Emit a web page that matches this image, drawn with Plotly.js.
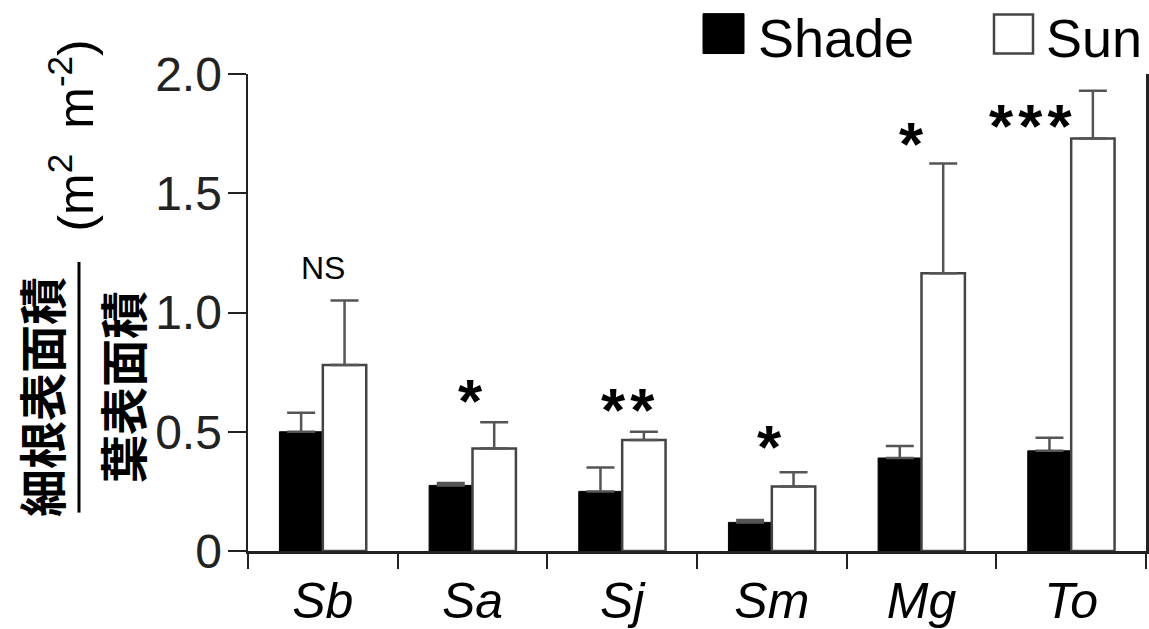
<!DOCTYPE html>
<html>
<head>
<meta charset="utf-8">
<script src="https://cdn.plot.ly/plotly-3.0.1.min.js"></script>
<style>html,body{margin:0;padding:0;background:#fff;}#chart{width:1149px;height:629px;}</style>
</head>
<body>
<div id="chart"></div>
<script>
const species = ['Sb', 'Sa', 'Sj', 'Sm', 'Mg', 'To'];
const shadeMean = [0.50, 0.275, 0.25, 0.12, 0.39, 0.42];
const shadeErr  = [0.08, 0.01, 0.10, 0.01, 0.05, 0.055];
const sunMean   = [0.78, 0.43, 0.465, 0.27, 1.165, 1.73];
const sunErr    = [0.27, 0.11, 0.035, 0.06, 0.46, 0.20];
const sigLabels = ['NS', '*', '**', '*', '*', '***'];
const sigY      = [1.186, 0.667, 0.630, 0.475, 1.747, 1.822];
const sigShift  = [0, -2, 6, -2, -10, -40];
const yTickVals = [0, 0.5, 1.0, 1.5, 2.0];
const yTickText = ['0', '0.5', '1.0', '1.5', '2.0'];

const FONT = 'Liberation Sans, Arial, sans-serif';
const CJK = 'Noto Sans CJK JP, sans-serif';

const traces = [
  {
    type: 'bar', name: 'Shade', x: species, y: shadeMean,
    marker: {color: '#000', line: {color: '#000', width: 1}},
    error_y: {type: 'data', array: shadeErr, arrayminus: shadeErr.map(() => 0), symmetric: false,
              color: '#555', thickness: 2.5, width: 14},
    showlegend: false
  },
  {
    type: 'bar', name: 'Sun', x: species, y: sunMean,
    marker: {color: '#fff', line: {color: '#444', width: 2.5}},
    error_y: {type: 'data', array: sunErr, arrayminus: sunErr.map(() => 0), symmetric: false,
              color: '#555', thickness: 2.5, width: 14},
    showlegend: false
  }
];

const annotations = species.map((s, i) => {
  const isNS = sigLabels[i] === 'NS';
  return {
    x: s, y: sigY[i], xref: 'x', yref: 'y', showarrow: false,
    text: isNS ? sigLabels[i] : '<b>' + sigLabels[i].split('').join('\u200A') + '</b>',
    xanchor: 'center', yanchor: 'middle',
    xshift: sigShift[i], yshift: isNS ? 0 : -9,
    font: {family: FONT, size: isNS ? 32 : 62, color: '#000'}
  };
});

annotations.push(
  {xref: 'paper', yref: 'paper', x: 0, xshift: -208, y: 0.323, xanchor: 'center', yanchor: 'middle',
   text: '<b>細根表面積</b>', textangle: -90,
   showarrow: false, font: {family: CJK, size: 48, color: '#000'}},
  {xref: 'paper', yref: 'paper', x: 0, xshift: -127, y: 0.344, xanchor: 'center', yanchor: 'middle',
   text: '<b>葉表面積</b>', textangle: -90,
   showarrow: false, font: {family: CJK, size: 48, color: '#000'}},
  {xref: 'paper', yref: 'paper', x: 0, xshift: -176, y: 0.871, xanchor: 'center', yanchor: 'middle',
   text: '(m<sup>2</sup>\u2002m<sup>-2</sup>)', textangle: -90,
   showarrow: false, font: {family: FONT, size: 50, color: '#000'}},
  {xref: 'paper', yref: 'paper', x: 0, xshift: 508, y: 1, yshift: 36.5, xanchor: 'left', yanchor: 'middle',
   text: 'Shade', showarrow: false, font: {family: FONT, size: 54, color: '#000'}},
  {xref: 'paper', yref: 'paper', x: 0, xshift: 796, y: 1, yshift: 36.5, xanchor: 'left', yanchor: 'middle',
   text: 'Sun', showarrow: false, font: {family: FONT, size: 54, color: '#000'}}
);

const shapes = [
  {type: 'line', xref: 'paper', yref: 'paper', x0: -0.1882, x1: -0.1882, y0: 0.0805, y1: 0.606,
   line: {color: '#000', width: 3}},
  {type: 'rect', xref: 'paper', yref: 'paper', x0: (703 - 248) / 898, x1: (744 - 248) / 898,
   y0: 1 + (73.5 - 53) / 478, y1: 1 + (73.5 - 13) / 478, fillcolor: '#000', line: {color: '#000', width: 1}},
  {type: 'rect', xref: 'paper', yref: 'paper', x0: (994 - 248) / 898, x1: (1033 - 248) / 898,
   y0: 1 + (73.5 - 53) / 478, y1: 1 + (73.5 - 14) / 478, fillcolor: '#fff', line: {color: '#444', width: 2.5}}
];

const layout = {
  width: 1149, height: 629,
  margin: {l: 248, r: 3, t: 73.5, b: 77.5, pad: 0},
  paper_bgcolor: '#fff', plot_bgcolor: '#fff',
  barmode: 'group', bargap: 0.42, bargroupgap: 0,
  showlegend: false,
  font: {family: FONT, color: '#000'},
  xaxis: {
    type: 'category', showgrid: false, zeroline: false, showline: true, linecolor: '#222', linewidth: 2.5,
    ticks: 'outside', tickson: 'boundaries', ticklen: 15, tickwidth: 2, tickcolor: '#222',
    tickfont: {family: FONT, size: 50, color: '#000'}, ticklabelstandoff: 4,
    tickvals: species, ticktext: species.map(s => '<i>' + s + '</i>')
  },
  yaxis: {
    range: [0, 2.0], showgrid: false, zeroline: false, showline: true, linecolor: '#222', linewidth: 2.5,
    mirror: true, ticks: 'outside', ticklen: 18, tickwidth: 2, tickcolor: '#222',
    tickvals: yTickVals, ticktext: yTickText,
    tickfont: {family: FONT, size: 48, color: '#222'}, ticklabelstandoff: -4
  },
  annotations: annotations,
  shapes: shapes
};

Plotly.newPlot('chart', traces, layout, {staticPlot: true, displayModeBar: false});
</script>
</body>
</html>
